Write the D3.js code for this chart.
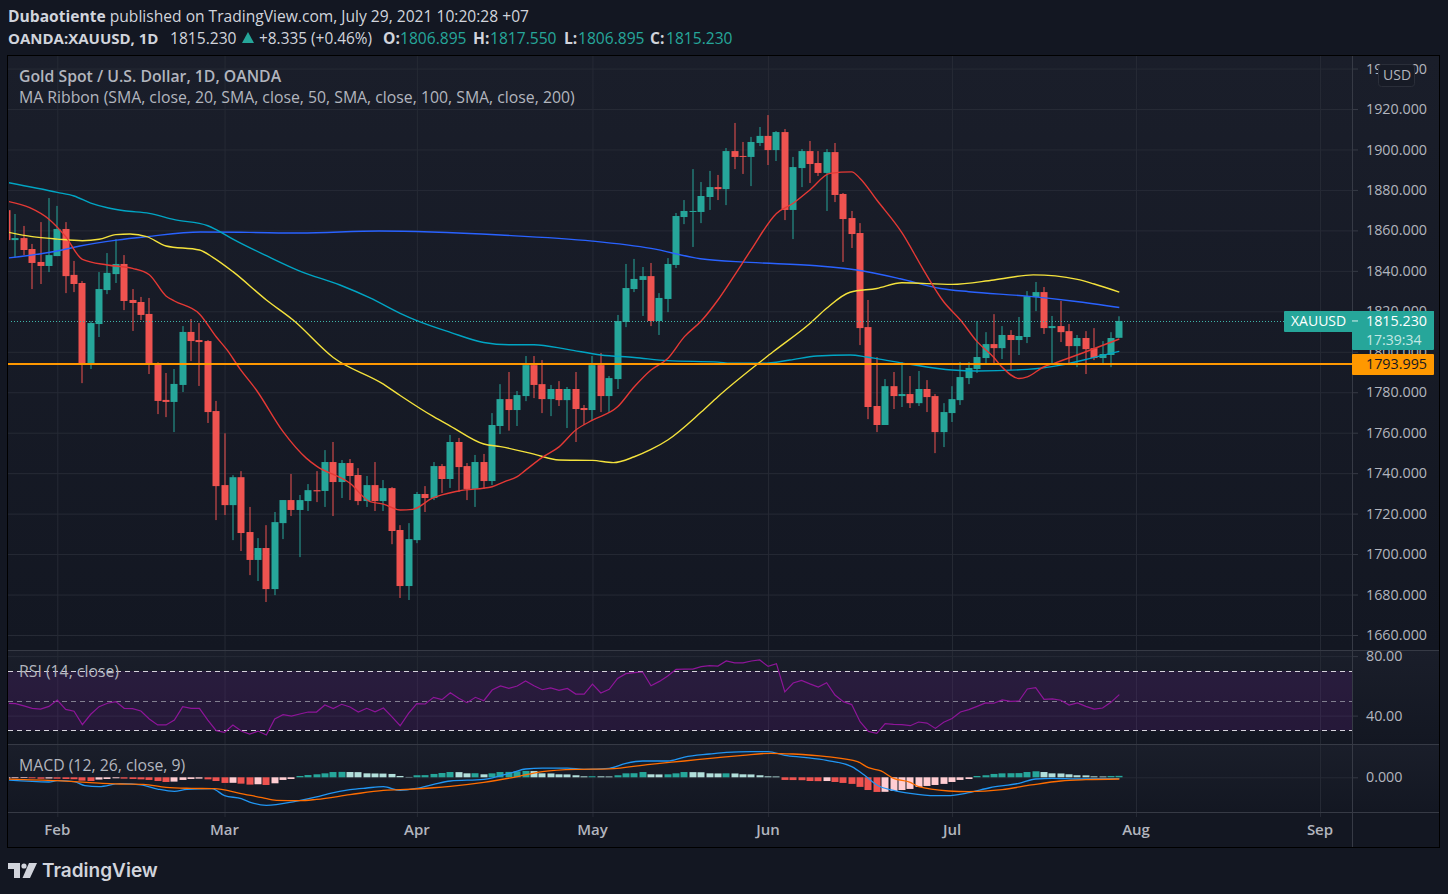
<!DOCTYPE html>
<html>
<head>
<meta charset="utf-8">
<title>XAUUSD</title>
<script src="https://cdn.jsdelivr.net/npm/d3@7"></script>
<style>
	html, body { margin: 0; padding: 0; background: #131722; overflow: hidden; }
	svg { display: block; }
	text { font-family: 'Open Sans', sans-serif; }
</style>
</head>
<body>
<div id="chart"></div>
<script>
// bar number 0 is Feb 1, the two arrays below start six bars earlier
var firstBar = -6;

var openVals = [1870,1855.2,1856.2,1850.8,1844.4,1842.4,1847.3,1860.7,1838,1834,1794,1813.7,1830.5,1838.4,1843.4,1825.6,1824.6,1818.7,1794.3,1776.2,1775.2,1783.6,1809.8,1805.8,1805.3,1770.7,1734.1,1724.2,1738,1710.9,1697.1,1703,1682.7,1715.3,1726.7,1721.8,1726.2,1731.6,1731.2,1745.5,1735.6,1745,1739.1,1726.2,1734.1,1726.2,1732.6,1711.9,1684.2,1706.9,1729.7,1727.7,1743.5,1737.1,1755.4,1743.5,1732.2,1745.5,1736.1,1763.3,1776.6,1771.2,1778.1,1793.4,1784,1776.6,1781.6,1776.1,1781.6,1772.2,1771.2,1793.4,1778.1,1786.5,1814.7,1831,1835.5,1837.4,1815.2,1826.1,1842.9,1866.6,1869.1,1869.1,1876.5,1881.4,1880.4,1899.2,1896.8,1896.3,1903.2,1906.7,1899.7,1908.6,1870.1,1890.8,1899.2,1893.3,1888.4,1898.7,1878,1866.1,1858.7,1812.2,1773.2,1763.8,1783,1778.1,1779.1,1774.6,1781.6,1778.1,1760.3,1769.7,1776.1,1787,1791.5,1796.9,1803.8,1801.8,1808.3,1805.8,1807.3,1827,1829.5,1811.7,1812.7,1810.2,1802.8,1806.8,1801.8,1796.9,1798.4,1806.895];
var highVals = [1872,1868.1,1862.2,1853.3,1864.1,1876,1872.1,1864.1,1844.9,1835,1815.2,1839.4,1848.8,1855.7,1847.8,1831,1827.1,1826.6,1794.8,1789.5,1791.5,1812.7,1816.2,1814.2,1805.8,1775.7,1759.7,1739,1741,1723.3,1707.9,1714.3,1720.8,1726.7,1739.6,1729.2,1734.6,1741,1751.4,1755.4,1746.5,1747,1742.5,1738.6,1745.5,1736.6,1733.1,1714.3,1715.3,1730.7,1733.6,1745.5,1744.5,1758.9,1757.4,1745,1749,1749.5,1769.7,1784,1790,1780.6,1797.9,1797.9,1795.9,1783.6,1785.5,1782.6,1790,1773.7,1797.9,1799.4,1788,1818.2,1843.4,1845.9,1841.9,1843.9,1829,1846.3,1868.6,1875,1890.3,1883.9,1889.4,1887.4,1900.7,1913.1,1903.7,1906.2,1911.1,1917,1909.1,1910.1,1896.3,1900.2,1904.2,1899.2,1900.2,1903.2,1878.5,1869.6,1863.6,1825.6,1797.4,1786.5,1790,1794.9,1788,1790.5,1786,1779.1,1774.6,1783,1794.9,1794.9,1815.2,1809.7,1818.6,1812.7,1810.7,1817.2,1830,1834.5,1832,1817.7,1825.1,1813.7,1808.3,1810.2,1811.7,1805.3,1809.7,1817.55];
var lowVals = [1852,1846.7,1847.8,1831,1833.5,1839.4,1847.3,1829,1829.5,1784.5,1791.5,1807.3,1828.5,1834,1820.6,1810.3,1815.7,1789,1769.2,1767.7,1760.3,1780.1,1795.4,1783.1,1764.8,1716.8,1719.3,1706.9,1701.5,1689.6,1686.7,1676.3,1679.7,1707.4,1718.8,1698.5,1721.3,1725.7,1723.3,1718.8,1727.7,1726.7,1724.2,1723.3,1721.3,1721.3,1704.9,1678.3,1677.3,1705.4,1720.8,1726.7,1730.2,1732.7,1730.7,1726.7,1723.3,1732.2,1734.1,1759.3,1761,1763.3,1775.6,1777.1,1769.7,1768.2,1773.2,1762.3,1755.4,1763.8,1765.8,1770.2,1770.2,1781.6,1812.2,1829.5,1817.7,1812.7,1808.3,1819.6,1841.4,1863.1,1851.8,1863.6,1870.1,1875,1872.5,1890.3,1887.9,1881.9,1901.7,1892.3,1894.3,1865.1,1855.7,1881.4,1883.4,1886.9,1869.6,1874,1844.4,1851.3,1803.3,1766.7,1760.3,1763.8,1771.7,1772.7,1772.2,1773.2,1770.2,1749.9,1752.9,1765.3,1773.7,1784,1789.5,1794.4,1794.4,1796.4,1791,1798.4,1804.3,1820.1,1808.8,1794.4,1804.8,1794.4,1792.4,1789,1795.9,1794.4,1792.4,1806.895];
var closeVals = [1855.2,1856.2,1850.3,1843.9,1842.4,1847.8,1860.7,1837.4,1833.5,1794,1814.2,1831,1839,1843.4,1825.1,1824.1,1818.2,1794,1775.7,1775.2,1784.1,1809.8,1805.3,1804.8,1770.2,1733.6,1724.2,1738,1710.4,1697.1,1703,1682.7,1715.8,1726.7,1721.8,1726.7,1731.6,1731,1745.5,1735.6,1745,1738.6,1726.2,1734.1,1726.2,1732.6,1711.4,1684.2,1707.4,1729.7,1727.7,1743.5,1737.1,1755.4,1743,1732.2,1745.5,1736.1,1763.8,1776.6,1771.2,1778.6,1793.4,1783.6,1776.6,1781.6,1776.1,1781.6,1771.7,1771.2,1793.4,1778.1,1787,1815.2,1831.5,1836,1837.4,1815.2,1826.6,1843.4,1867.1,1869.6,1869.6,1877,1881.4,1880.4,1899.2,1896.3,1896.3,1903.7,1906.7,1899.7,1908.6,1870.1,1891.3,1899.2,1892.8,1888.4,1898.7,1877.5,1865.6,1858.2,1811.7,1772.7,1763.8,1783,1778.1,1779.1,1774.6,1781.6,1777.6,1760.3,1770.2,1776.6,1787.5,1792,1797.4,1803.8,1801.8,1808.3,1805.8,1807.8,1827.5,1829.5,1811.7,1812.7,1809.7,1802.8,1806.8,1801.3,1796.9,1798.9,1806.8,1815.23];

// moving averages, read as [bar, price]
var sma20 = [[-6,1874.4],[-3.3,1871.2],[-1,1865.5],[1,1856.9],[3,1845.7],[6,1842.9],[9,1841.2],[11,1838.1],[13,1827.6],[14,1825.1],[17,1818.7],[19,1807.4],[20.3,1800.9],[21.8,1791.8],[23.8,1781.1],[27,1760.5],[29.8,1747.3],[31,1743.5],[35,1735],[37.4,1725.9],[39,1724.7],[41,1721.8],[42.5,1722.1],[44.8,1727.5],[48,1731.2],[52,1733.3],[53.5,1735.8],[55,1738.3],[56,1741.5],[58,1747.8],[60,1753],[62,1761.3],[64,1766.2],[67,1772.8],[69,1782.7],[71,1791],[73,1796.7],[75,1807.5],[77,1815.2],[79,1825.6],[81,1837.9],[83,1850.6],[86,1868.4],[88,1873.4],[90,1880],[92.4,1888.2],[95,1888.9],[96,1885.7],[98,1875],[101,1858.9],[103.6,1840.4],[106,1824.7],[108,1815.7],[110,1805],[112,1797.2],[113,1792.3],[115,1786.8],[116,1787.6],[118,1792.6],[119.2,1794.3],[123,1800],[127,1806.3]];
var sma50 = [[-6,1859.2],[-3,1856.9],[0,1855.7],[3,1854.9],[5,1855.6],[7,1857.9],[8.7,1858.2],[10.7,1856.9],[13,1852.3],[17,1850.3],[18.6,1846.7],[21,1839.6],[25,1825.6],[28.2,1815.7],[33,1797.2],[39,1784],[41,1778.4],[45,1767.9],[47,1763.3],[51,1754.4],[53,1753.1],[57,1749.4],[60,1746.5],[64,1746.3],[66.5,1745.2],[69,1748.1],[71,1751.7],[73,1756.4],[77,1770.2],[79,1777.8],[85.6,1800],[90,1814],[92,1821.5],[94.8,1829.4],[98,1831.3],[101,1834.1],[107,1833.3],[112,1835.5],[116.7,1838],[122,1835.8],[124,1833.5],[127,1829.5]];
var sma100 = [[-6,1883.7],[0,1878.8],[2,1877],[4,1873.5],[6,1871.2],[8,1869.7],[11,1868.4],[14,1865.3],[18,1862.3],[19,1860.4],[21,1855.7],[25,1847.5],[29,1839.9],[33.8,1833],[37.4,1826.6],[41,1819],[43,1815.4],[47,1809.6],[51,1804.6],[54,1803.5],[57,1803.5],[61,1801.2],[65,1798.4],[69,1797.2],[73,1795.6],[79,1794.9],[80.5,1794.3],[84.4,1794.3],[87.6,1795.9],[90.8,1797.9],[94.8,1798.4],[96.8,1797.4],[98,1796.6],[102,1793.8],[107,1791],[110,1790.5],[116,1791.3],[120,1793.4],[124,1797.2],[127,1800.2]];
var sma200 = [[-6,1846.3],[0,1849.8],[2.7,1852.3],[7.1,1855.2],[10.7,1856.9],[17.1,1859.2],[23,1859],[29,1858.7],[38.5,1859.7],[53,1857.7],[64,1854.7],[71,1851.1],[76.9,1846],[82.8,1844.2],[90.8,1842.5],[95.6,1840.4],[100.8,1836.1],[105.6,1831.3],[109,1829.7],[116,1827.5],[121.6,1825],[127,1821.9]];

var rsiVals = [48.3,48,46.5,44.9,44.4,46.2,50.5,44.2,42.9,33.9,40.9,46,48.3,49.4,44.9,44.7,43.1,37.7,33.7,33.7,37,46,44.9,44.9,37,29.9,28.7,33.7,29.6,27.6,29.6,27,37.7,40.6,39.7,41.1,42.4,42.4,47.1,44.7,47.6,45.8,42.4,44.9,42.6,45.1,39.3,33.2,41.5,48,47.8,52.3,50.7,55.4,51.6,48.7,52.3,50,57.2,59.9,58.3,59.9,63.3,60.1,57.4,58.6,57,58.3,54.5,54.5,61.2,55.2,57.7,65,68.2,68.9,69.3,60.1,63,66.6,71.1,71.3,71.3,72.9,73.6,73.3,76.7,75.4,75.4,76.7,77.4,73.1,74.9,55.9,61.9,63.7,61.3,59.2,62.1,53.8,49.4,47.4,35.9,29.4,28.1,34.6,34.1,33.9,33.2,35.7,35,31.4,35.5,38.1,42.4,44,46.2,48.5,48.3,50.5,49.6,49.8,57.9,58.8,50.9,51.2,50.3,47.1,48.5,46.2,44.4,45.1,48.9,54.1];

var macdHist = [-1,-0.7,-0.6,-0.8,-1.2,-1,-1.2,-1.4,-1.6,-2.8,-3.1,-1.9,-1.4,-0.8,-1.1,-1.4,-1.7,-2.2,-3.1,-3.9,-3.6,-2.2,-1.4,-1.1,-1.7,-3.1,-4.7,-4.6,-5.3,-6.1,-5.8,-6.4,-5,-2.2,-1.4,1.1,1.9,2.5,3.3,4.4,4.5,4.4,4.3,3.3,3.2,3.1,2.8,1.1,0.3,1.7,1.8,2.8,3.6,4.4,4.3,3.3,3.4,2.5,3.3,4.4,4.5,5,5.3,5.2,3.3,3.2,2.5,2.4,1.7,0.8,0.9,0.8,0.7,1.7,3.3,3.4,4.4,2.5,2.4,2.5,3.3,4.4,4.3,4.2,3.3,3.2,3.3,3.2,2.5,2.4,1.7,0.8,0.7,-2.2,-2.3,-2.4,-3.1,-3.2,-3.1,-3.9,-4.7,-5.5,-8,-10.6,-12.2,-12.1,-11.4,-10.6,-9.7,-8,-7.2,-6.4,-5.5,-3.9,-2.2,-1.4,1.1,1.7,2.8,3.3,3.4,3.5,4.4,5,4.4,3.3,3.2,2.5,1.7,1.6,0.8,0.7,1.1,1.2];
var macdLine = [[-6,-2.3],[-1,-3.9],[0,-2.8],[2,-3.6],[3.3,-7],[5,-7.8],[7.5,-5.3],[10,-6.4],[12,-9.8],[14,-11.7],[15.5,-10],[18.5,-9.5],[20,-15.3],[22,-17.8],[23,-20.6],[25,-23.4],[28.5,-20],[31,-16.4],[32.5,-13.6],[35,-10.3],[37,-8.9],[39,-7.8],[41,-10.9],[43,-9.2],[45,-5.9],[47,-3.1],[51,-1.7],[54.6,4.4],[56,6.9],[58,7.7],[61,7.7],[63,6.6],[66,7.5],[68,11.6],[70,13.6],[73,13.6],[75,16.9],[78,19.4],[80,20.8],[83,21.4],[85,21.4],[87,18.3],[89.3,16.6],[92,14.1],[95,8.9],[96.5,1.9],[98,-6.4],[100,-10.9],[102,-13.4],[105,-15.3],[106.4,-15.3],[109,-12.8],[111.5,-8.7],[115,-5],[117,-1.4],[119,-0.9],[122.3,-1.4],[127,-1.1]];
var signalLine = [[-6,-1.4],[0,-2.8],[3.5,-4.2],[7.5,-5.6],[10.3,-5.9],[13,-8.4],[16,-9.2],[18.8,-9.5],[21.7,-13.1],[24.5,-17],[26.2,-19.2],[29,-19.5],[31,-18.4],[35,-14.5],[39,-10.9],[41,-10.3],[45,-8.7],[47,-7.5],[51,-4.2],[54.6,0],[58,4.7],[62,6.6],[66,7],[70.9,10.8],[75,13.6],[79,16.4],[82,18.3],[85.3,20],[88,19.4],[92,17.2],[95.7,13],[97,8],[98.5,5.3],[100,-0.9],[102,-4.2],[103,-7.8],[106.6,-11.4],[109,-12],[113,-10.3],[116.5,-6.4],[120,-3.1],[123,-2],[127,-1.4]];

var priceTicks = [1660,1680,1700,1720,1740,1760,1780,1800,1820,1840,1860,1880,1900,1920,1940];
var rsiTicks = [40,80];
var rsiLevels = [70,50,30];
var macdTicks = [0];
var monthBars = [0,20,43,64,85,107,129,151];
var monthNames = ['Feb','Mar','Apr','May','Jun','Jul','Aug','Sep'];
var lastPrice = 1815.23;
var levelPrice = 1793.995;

var width = 1448, height = 894;
var left = 8, right = 1439, axisX = 1352;
var mainTop = 56, mainBottom = 650, rsiBottom = 744, macdBottom = 812, frameBottom = 847;

var upColor = '#26a69a', downColor = '#ef5350';
var gridColor = '#262a35', lineColor = '#363a45', labelColor = '#b2b5be';
var legendSize = 15.8, headSize = 15.6;

var svg = d3.select('#chart').append('svg').attr('width', width).attr('height', height);
var defs = svg.append('defs');

var grad = defs.append('linearGradient').attr('id', 'paneBg').attr('x1', 0).attr('y1', 0).attr('x2', 0).attr('y2', 1);
grad.append('stop').attr('offset', '0%').attr('stop-color', '#1a1e2a');
grad.append('stop').attr('offset', '100%').attr('stop-color', '#131722');

defs.append('clipPath').attr('id', 'plotClip').append('rect')
	.attr('x', left + 1).attr('y', mainTop).attr('width', axisX - left - 1).attr('height', frameBottom - mainTop);

var x = d3.scaleLinear().domain([0, 127]).range([57.3, 1119.3]);
var yPrice = d3.scaleLinear().domain([1660, 1920]).range([635, 109]);
var yRsi = d3.scaleLinear().domain([40, 80]).range([715.6, 656.1]);
var yMacd = d3.scaleLinear().domain([0, 20]).range([777.3, 753.3]);

// pane backgrounds
[[mainTop, mainBottom], [mainBottom, rsiBottom], [rsiBottom, macdBottom]].forEach(function(p) {
	svg.append('rect').attr('x', left).attr('y', p[0]).attr('width', right - left).attr('height', p[1] - p[0])
		.attr('fill', 'url(#paneBg)');
});
svg.append('rect').attr('x', left).attr('y', macdBottom).attr('width', right - left).attr('height', frameBottom - macdBottom)
	.attr('fill', '#131722');

function gridY(scale, ticks) {
	var g = svg.append('g').attr('transform', 'translate(' + axisX + ',0)')
		.call(d3.axisLeft(scale).tickValues(ticks).tickSize(axisX - left).tickFormat(''));
	g.select('.domain').remove();
	g.selectAll('line').attr('stroke', gridColor);
}
gridY(yPrice, priceTicks);
gridY(yRsi, rsiTicks);
gridY(yMacd, macdTicks);

// month grid and the time axis
var timeAxis = svg.append('g').attr('transform', 'translate(0,' + (macdBottom + 5) + ')')
	.call(d3.axisBottom(x).tickValues(monthBars).tickSize(macdBottom + 5 - mainTop).tickFormat(''));
timeAxis.select('.domain').remove();
timeAxis.selectAll('line').attr('transform', 'translate(0,' + (mainTop - macdBottom - 5) + ')').attr('stroke', gridColor);

svg.selectAll('.monthLabel').data(monthBars).enter().append('text')
	.attr('class', 'monthLabel')
	.attr('x', function(d) { return x(d); })
	.attr('y', 835)
	.attr('text-anchor', 'middle')
	.attr('font-size', 15)
	.attr('font-weight', 600)
	.attr('fill', labelColor)
	.text(function(d, i) { return monthNames[i]; });

// rsi band
svg.append('rect').attr('x', left).attr('width', axisX - left)
	.attr('y', yRsi(70)).attr('height', yRsi(30) - yRsi(70))
	.attr('fill', '#7e1fa8').attr('fill-opacity', 0.17);

svg.selectAll('.rsiLevel').data(rsiLevels).enter().append('line')
	.attr('class', 'rsiLevel')
	.attr('x1', left).attr('x2', axisX)
	.attr('y1', function(d) { return Math.round(yRsi(d)) + 0.5; })
	.attr('y2', function(d) { return Math.round(yRsi(d)) + 0.5; })
	.attr('stroke', function(d) { return d == 50 ? '#827f90' : '#d6d3dc'; })
	.attr('stroke-dasharray', '5,4');

var plot = svg.append('g').attr('clip-path', 'url(#plotClip)');

// candles
var bars = d3.range(openVals.length).map(function(i) {
	return { bar: i + firstBar, o: openVals[i], h: highVals[i], l: lowVals[i], c: closeVals[i] };
});

function candleColor(d) { return d.c >= d.o ? upColor : downColor; }

plot.selectAll('.wick').data(bars).enter().append('rect')
	.attr('class', 'wick')
	.attr('x', function(d) { return Math.round(x(d.bar)) - 0.5; })
	.attr('width', 1)
	.attr('y', function(d) { return yPrice(d.h); })
	.attr('height', function(d) { return yPrice(d.l) - yPrice(d.h); })
	.attr('fill', candleColor);

plot.selectAll('.body').data(bars).enter().append('rect')
	.attr('class', 'body')
	.attr('x', function(d) { return Math.round(x(d.bar)) - 3.5; })
	.attr('width', 7)
	.attr('y', function(d) { return yPrice(Math.max(d.o, d.c)); })
	.attr('height', function(d) { return Math.max(1, Math.abs(yPrice(d.o) - yPrice(d.c))); })
	.attr('fill', candleColor);

// ma ribbon
var priceLine = d3.line()
	.x(function(d) { return x(d[0]); })
	.y(function(d) { return yPrice(d[1]); })
	.curve(d3.curveMonotoneX);

[[sma200, '#2962ff'], [sma100, '#00a5c4'], [sma50, '#f4e23c'], [sma20, '#e53935']].forEach(function(s) {
	plot.append('path').attr('d', priceLine(s[0])).attr('fill', 'none')
		.attr('stroke', s[1]).attr('stroke-width', 1.4);
});

// last price and the drawn level
plot.append('line').attr('x1', left).attr('x2', 1284)
	.attr('y1', Math.round(yPrice(lastPrice)) + 0.5).attr('y2', Math.round(yPrice(lastPrice)) + 0.5)
	.attr('stroke', '#3fb5a9').attr('stroke-dasharray', '1,2');
svg.append('line').attr('x1', left).attr('x2', 1358)
	.attr('y1', yPrice(levelPrice)).attr('y2', yPrice(levelPrice))
	.attr('stroke', '#ff9800').attr('stroke-width', 2);

// rsi line
var rsiPath = d3.line()
	.x(function(d, i) { return x(i + firstBar); })
	.y(function(d) { return yRsi(d); });
plot.append('path').attr('d', rsiPath(rsiVals)).attr('fill', 'none').attr('stroke', '#8e1599').attr('stroke-width', 1.2);

// macd histogram, colour follows the change from the bar before
function histColor(v, i) {
	var prev = i > 0 ? macdHist[i - 1] : v;
	if (v >= 0) return v > prev ? upColor : '#b2dfdb';
	return v < prev ? downColor : '#ffcdd2';
}
plot.selectAll('.hist').data(macdHist).enter().append('rect')
	.attr('class', 'hist')
	.attr('x', function(d, i) { return Math.round(x(i + firstBar)) - 3.5; })
	.attr('width', 7)
	.attr('y', function(d) { return Math.min(yMacd(d), yMacd(0)); })
	.attr('height', function(d) { return Math.abs(yMacd(d) - yMacd(0)); })
	.attr('fill', histColor);

var macdPath = d3.line()
	.x(function(d) { return x(d[0]); })
	.y(function(d) { return yMacd(d[1]); })
	.curve(d3.curveMonotoneX);
plot.append('path').attr('d', macdPath(macdLine)).attr('fill', 'none').attr('stroke', '#2196f3').attr('stroke-width', 1.3);
plot.append('path').attr('d', macdPath(signalLine)).attr('fill', 'none').attr('stroke', '#ff6d00').attr('stroke-width', 1.3);

// pane borders
[mainBottom, rsiBottom, macdBottom].forEach(function(y0) {
	svg.append('line').attr('x1', left).attr('x2', right).attr('y1', y0 + 0.5).attr('y2', y0 + 0.5).attr('stroke', lineColor);
});
svg.append('line').attr('x1', axisX + 0.5).attr('x2', axisX + 0.5).attr('y1', mainTop).attr('y2', frameBottom).attr('stroke', lineColor);

// value axes
function valueAxis(scale, ticks, fmt) {
	var g = svg.append('g').attr('transform', 'translate(' + axisX + ',0)')
		.call(d3.axisRight(scale).tickValues(ticks).tickSize(6).tickPadding(8).tickFormat(d3.format(fmt)));
	g.select('.domain').remove();
	g.selectAll('line').attr('stroke', lineColor);
	g.selectAll('text').attr('fill', labelColor).attr('font-size', 14.3).style('font-family', "'Open Sans', sans-serif");
}
valueAxis(yPrice, priceTicks, '.3f');
valueAxis(yRsi, rsiTicks, '.2f');
valueAxis(yMacd, macdTicks, '.3f');

// price tags
svg.append('rect').attr('x', 1284).attr('y', yPrice(lastPrice) - 10).attr('width', 150).attr('height', 21).attr('rx', 1).attr('fill', upColor);
svg.append('rect').attr('x', axisX).attr('y', yPrice(lastPrice) - 10).attr('width', 82).attr('height', 39).attr('rx', 1).attr('fill', upColor);
svg.append('rect').attr('x', axisX).attr('y', yPrice(levelPrice) - 10).attr('width', 82).attr('height', 21).attr('rx', 1).attr('fill', '#ff9800');

function label(txt, px, py, size, color, weight) {
	return svg.append('text').attr('x', px).attr('y', py).attr('font-size', size)
		.attr('fill', color).attr('font-weight', weight || 400).text(txt);
}
label('XAUUSD', 1291, 326, 14, '#ffffff');
svg.append('line').attr('x1', 1352).attr('x2', 1358).attr('y1', yPrice(lastPrice)).attr('y2', yPrice(lastPrice)).attr('stroke', '#d7efec');
label(d3.format('.3f')(lastPrice), 1366, 326, 14.3, '#ffffff');
label('17:39:34', 1366, 345, 14, '#c4e8e4');
label(d3.format('.3f')(levelPrice), 1366, 369, 14.3, '#131722');

// currency button
svg.append('rect').attr('x', 1378.5).attr('y', 64.5).attr('width', 36).attr('height', 22).attr('rx', 3)
	.attr('fill', '#171b26').attr('stroke', '#2a2e39');
label('USD', 1383, 80, 14, labelColor);

// pane legends
label('Gold Spot / U.S. Dollar, 1D, OANDA', 19, 82, legendSize, labelColor, 600);
label('MA Ribbon (SMA, close, 20, SMA, close, 50, SMA, close, 100, SMA, close, 200)', 19, 103, legendSize, labelColor);
label('RSI (14, close)', 19, 677, legendSize, labelColor);
label('MACD (12, 26, close, 9)', 19, 771, legendSize, labelColor);

// frame
svg.append('rect').attr('x', left - 0.5).attr('y', mainTop - 0.5).attr('width', right - left + 1).attr('height', frameBottom - mainTop + 1)
	.attr('fill', 'none').attr('stroke', '#000000');

// header
var head = svg.append('text').attr('x', 8).attr('y', 22).attr('font-size', headSize).attr('fill', '#d1d4dc');
head.append('tspan').attr('font-weight', 700).text('Dubaotiente');
head.append('tspan').text(' published on TradingView.com, July 29, 2021 10:20:28 +07');

label('OANDA:XAUUSD, 1D', 8, 44, 15, '#d1d4dc', 700);
label('1815.230', 170, 44, headSize, '#d1d4dc');
label('+8.335 (+0.46%)', 259, 44, 15.4, '#d1d4dc');
[['O:', 383, '1806.895', 400], ['H:', 473, '1817.550', 490], ['L:', 564, '1806.895', 578], ['C:', 650, '1815.230', 666]].forEach(function(q) {
	label(q[0], q[1], 44, headSize, '#d1d4dc', 700);
	label(q[2], q[3], 44, headSize, upColor);
});
svg.append('path').attr('d', 'M248 32L254 43H242Z').attr('fill', upColor);

// logo
var logo = svg.append('g').attr('fill', '#d1d4dc');
logo.append('path').attr('d', 'M8 863H20V878H14V869H8Z');
logo.append('circle').attr('cx', 24).attr('cy', 866).attr('r', 2.6);
logo.append('path').attr('d', 'M29 863H37L30 878H22.5Z');
label('TradingView', 42, 877, 19, '#d1d4dc', 600).style('font-family', 'Inter, sans-serif');
</script>
</body>
</html>
